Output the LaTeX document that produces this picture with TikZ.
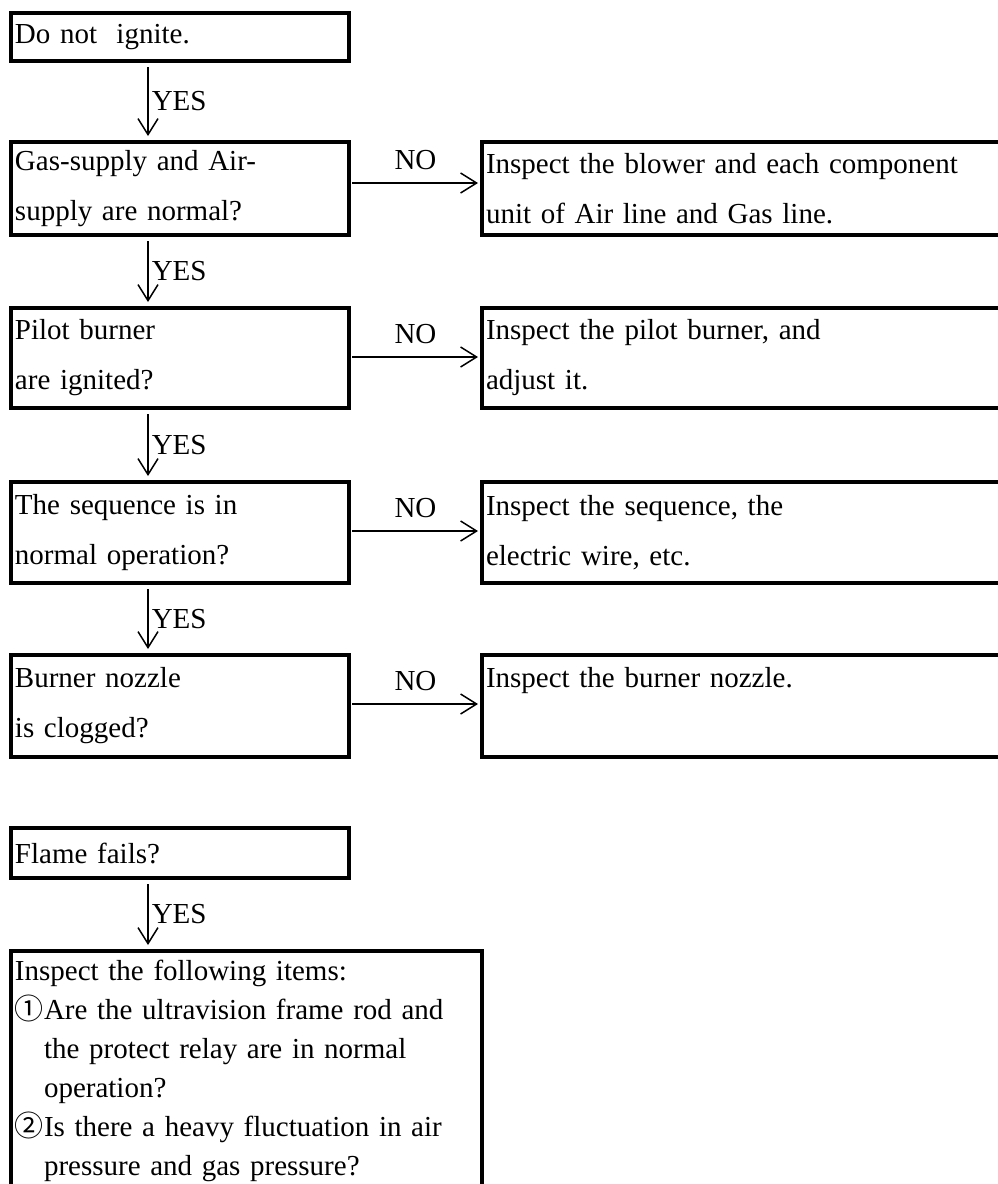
\documentclass[tikz,border=0pt]{standalone}
\usepackage{fontspec}
\setmainfont{Liberation Serif}
\newfontfamily\cjkfont{Noto Sans CJK JP}
\usetikzlibrary{arrows.meta, positioning}

\tikzset{
  box/.style={draw, line width=3.5pt, outer sep=0pt, inner xsep=4pt, anchor=north west,
    align=left, font=\fontsize{29}{50}\selectfont},
  qbox/.style={box, minimum width=338pt, text width=330pt},
  abox/.style={box, minimum width=570pt, text width=562pt},
  ibox/.style={box, minimum width=471pt, text width=463pt, inner ysep=9pt,
    font=\fontsize{29}{39}\selectfont},
  vflow/.style={line width=1.5pt, -{Straight Barb[length=16pt,width=20pt]}, shorten <=6pt, shorten >=6pt},
  hflow/.style={line width=1.5pt, -{Straight Barb[length=16pt,width=20pt]}, shorten <=3pt, shorten >=4pt},
  lbl/.style={font=\fontsize{29}{29}\selectfont, inner sep=3pt}
}

\begin{document}
\begin{tikzpicture}[x=1pt, y=-1pt]
  \clip[use as bounding box] (0,0) rectangle (998,1184);

  % --- Ignition check ---
  \node[qbox, minimum height=48pt] (ignite) at (11,13) {Do not\ \ ignite.};
  \node[qbox, minimum height=93pt] (supply) at (11,142) {Gas-supply and Air-\\supply are normal?};
  \node[abox, minimum height=93pt] (blower) at (482,142) {Inspect the blower and each component\\unit of Air line and Gas line.};
  \node[qbox, minimum height=100pt] (pilot) at (11,308) {Pilot burner\\are ignited?};
  \node[abox, minimum height=100pt] (adjust) at (482,308) {Inspect the pilot burner, and\\adjust it.};
  \node[qbox, minimum height=101pt] (sequence) at (11,482) {The sequence is in\\normal operation?};
  \node[abox, minimum height=101pt] (wire) at (482,482) {Inspect the sequence, the\\electric wire, etc.};
  \node[qbox, minimum height=102pt] (nozzle) at (11,655) {Burner nozzle\\is clogged?};
  \node[abox, minimum height=102pt] (clogged) at (482,655) {Inspect the burner nozzle.\\\vphantom{g}};

  % YES connectors
  \draw[vflow] ([xshift=137pt]ignite.south west) -- ([xshift=137pt]supply.north west) node[lbl, midway, right] {YES};
  \draw[vflow] ([xshift=137pt]supply.south west) -- ([xshift=137pt]pilot.north west) node[lbl, midway, right] {YES};
  \draw[vflow] ([xshift=137pt]pilot.south west) -- ([xshift=137pt]sequence.north west) node[lbl, midway, right] {YES};
  \draw[vflow] ([xshift=137pt]sequence.south west) -- ([xshift=137pt]nozzle.north west) node[lbl, midway, right] {YES};

  % NO connectors
  \draw[hflow] ([yshift=-41pt]supply.north east) -- ([yshift=-41pt]blower.north west) node[lbl, midway, above=9pt] {NO};
  \draw[hflow] ([yshift=-49pt]pilot.north east) -- ([yshift=-49pt]adjust.north west) node[lbl, midway, above=9pt] {NO};
  \draw[hflow] ([yshift=-49pt]sequence.north east) -- ([yshift=-49pt]wire.north west) node[lbl, midway, above=9pt] {NO};
  \draw[hflow] ([yshift=-49pt]nozzle.north east) -- ([yshift=-49pt]clogged.north west) node[lbl, midway, above=9pt] {NO};

  % --- Flame failure ---
  \node[qbox, minimum height=50pt] (flame) at (11,828) {Flame fails?};
  \node[ibox] (items) at (11,951) {Inspect the following items:\\
    {\cjkfont ①}Are the ultravision frame rod and\\
    \phantom{\cjkfont ①}the protect relay are in normal\\
    \phantom{\cjkfont ①}operation?\\
    {\cjkfont ②}Is there a heavy fluctuation in air\\
    \phantom{\cjkfont ①}pressure and gas pressure?};
  \draw[vflow] ([xshift=137pt]flame.south west) -- ([xshift=137pt]items.north west) node[lbl, midway, right] {YES};
\end{tikzpicture}
\end{document}
